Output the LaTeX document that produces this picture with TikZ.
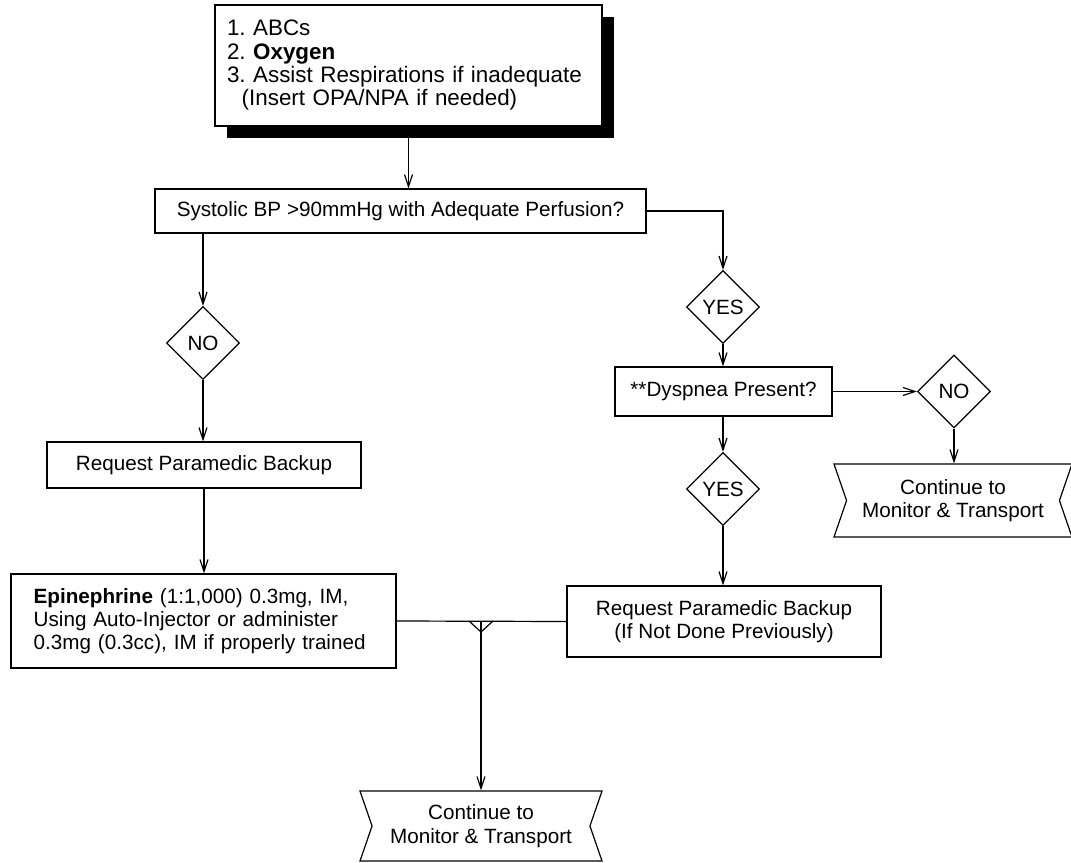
\documentclass[tikz,border=0pt]{standalone}
\usepackage{fontspec}
\setmainfont{Liberation Sans}
\frenchspacing
\usetikzlibrary{positioning, arrows.meta, shapes.geometric, shapes.symbols, shadows}

\begin{document}
\begin{tikzpicture}[x=0.75pt, y=-0.75pt, line width=0.9pt,
    >={Straight Barb[length=9pt, width=6pt]},
    every node/.style={font=\fontsize{15.5}{17.5}\selectfont},
    box/.style={draw, rectangle, fill=white, inner sep=0pt, align=center},
    decision/.style={draw, diamond, aspect=1, inner sep=0pt,
        minimum width=54.75pt, minimum height=54.75pt},
    final/.style={draw, signal, signal from=west and east, signal to=nowhere,
        signal pointer angle=142, inner sep=0pt, align=center}]
    \useasboundingbox (0,0) rectangle (1071,863);

    % first steps
    \node[box, align=left, inner xsep=9pt, text width=272.25pt,
        font=\fontsize{16.8}{17.5}\selectfont,
        minimum width=290.25pt, minimum height=90.75pt,
        drop shadow={shadow xshift=9pt, shadow yshift=-9pt, fill=black, opacity=1}]
        (steps) at (408.5,65.5)
        {1. ABCs\\ 2. \textbf{Oxygen}\\ 3. Assist Respirations if inadequate\\
         \hspace*{11pt}(Insert OPA/NPA if needed)};
    \node[box, minimum width=368.25pt, minimum height=33pt] (bp) at (400.5,211)
        {Systolic BP >90mmHg with Adequate Perfusion?};

    % left branch
    \node[decision] (no1) at (203,343) {NO};
    \node[box, minimum width=235.5pt, minimum height=34.5pt] (req1) at (204,465)
        {Request Paramedic Backup};
    \node[box, align=left, inner xsep=17pt, text width=254.75pt,
        minimum width=288.75pt, minimum height=70.5pt] (epi) at (203.5,621)
        {\textbf{Epinephrine} (1:1,000) 0.3mg, IM,\\ Using Auto-Injector or administer\\
         0.3mg (0.3cc), IM if properly trained};

    % right branch
    \node[decision] (yes1) at (723,307) {YES};
    \node[box, minimum width=162.75pt, minimum height=36.75pt] (dysp) at (723.5,391.5)
        {**Dyspnea Present?};
    \node[decision] (no2) at (954,391.5) {NO};
    \node[final, minimum width=178.5pt, minimum height=54.75pt] (cont2) at (953,500.5)
        {Continue to\\ Monitor \& Transport};
    \node[decision] (yes2) at (723,489) {YES};
    \node[box, minimum width=235.5pt, minimum height=53.25pt] (req2) at (724,621.5)
        {Request Paramedic Backup\\ (If Not Done Previously)};

    % end
    \node[final, minimum width=181.5pt, minimum height=52.5pt] (cont1) at (481,826)
        {Continue to\\ Monitor \& Transport};
    \coordinate (merge) at (cont1.north |- epi.east);

    \path[->]
        (steps.south) edge (steps.south |- bp.north)
        (no1.north |- bp.south) edge (no1.north)
        (no1.south) edge (no1.south |- req1.north)
        (req1.south) edge (req1.south |- epi.north)
        (bp.east) edge[to path={-| (\tikztotarget)}] (yes1.north)
        (yes1.south) edge (yes1.south |- dysp.north)
        (dysp.east) edge (no2.west)
        (no2.south) edge (no2.south |- cont2.north)
        (dysp.south -| yes2.north) edge (yes2.north)
        (yes2.south) edge (yes2.south |- req2.north)
        (merge) edge (cont1.north);

    \draw (epi.east) -- (req2.west);
    \draw ([xshift=-9pt]merge) -- ([yshift=-8.25pt]merge) -- ([xshift=9pt]merge);
\end{tikzpicture}
\end{document}
